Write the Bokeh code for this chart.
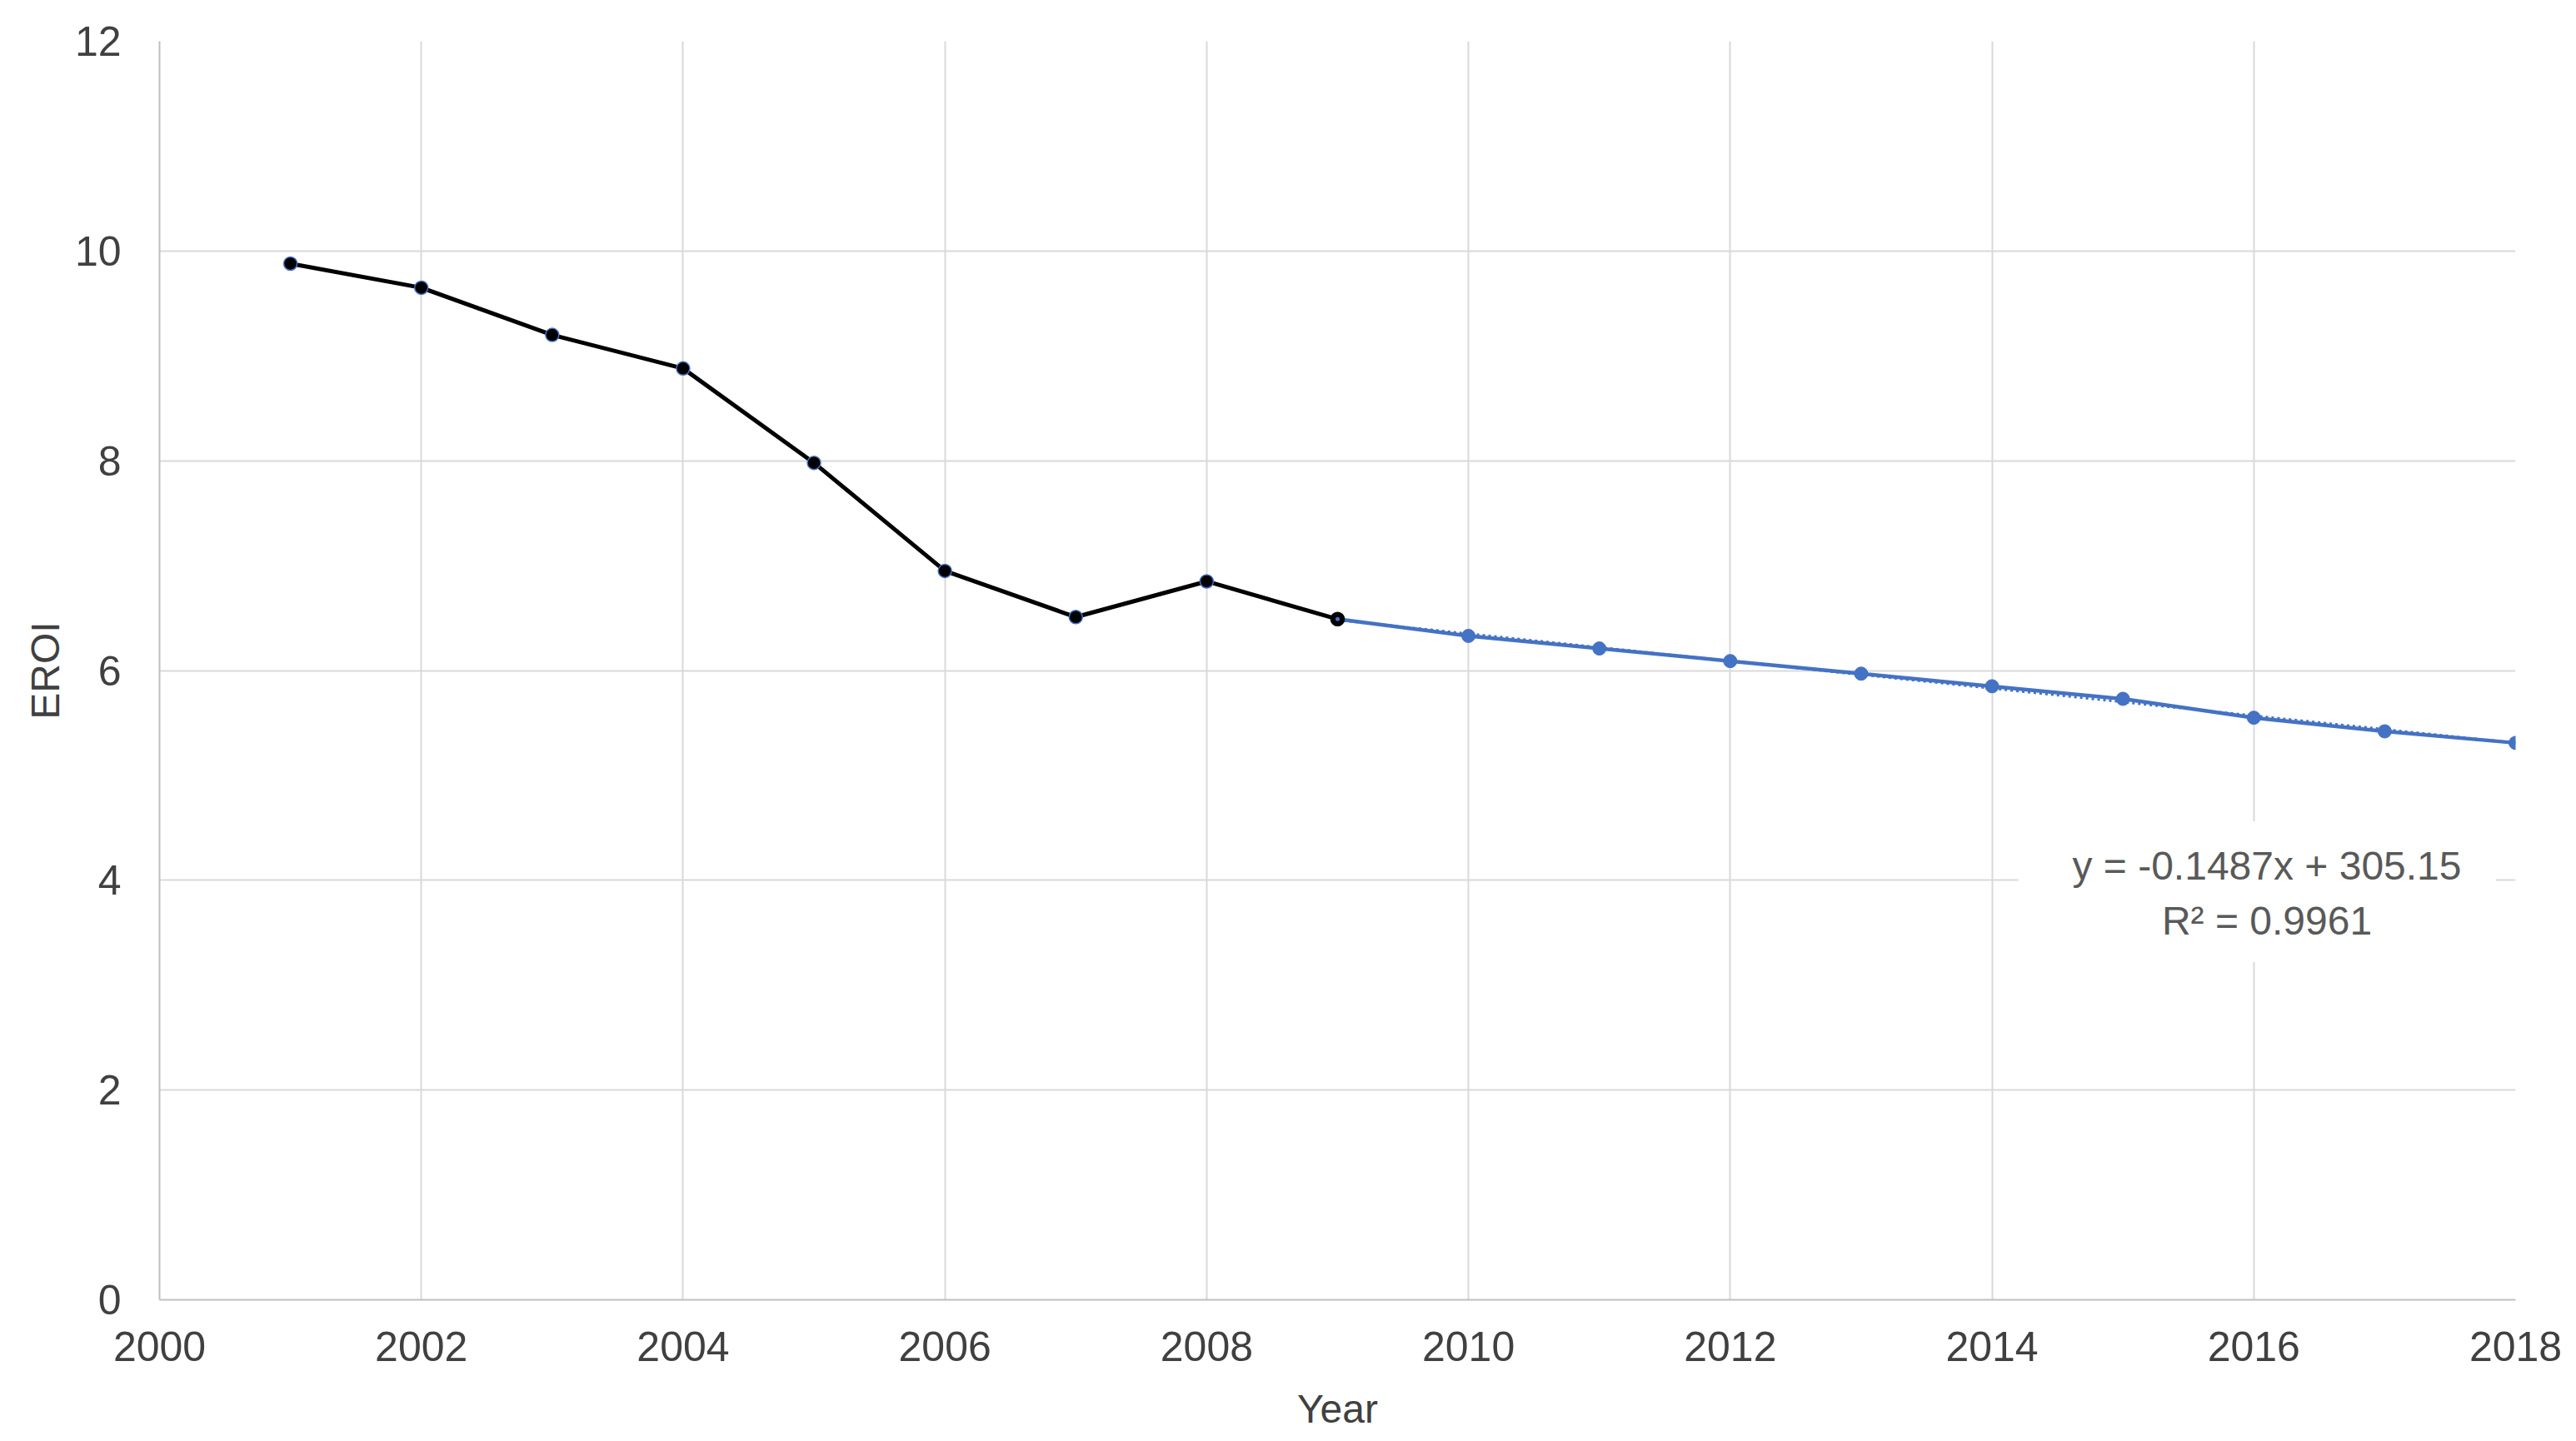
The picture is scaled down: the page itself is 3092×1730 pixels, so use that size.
import numpy as np
from bokeh.plotting import figure
from bokeh.models import Range1d, FixedTicker, Label, BoxAnnotation
from bokeh.embed import file_html
from bokeh.resources import INLINE

# ---- data ----
years_hist = [2001, 2002, 2003, 2004, 2005, 2006, 2007, 2008, 2009]
eroi_hist = [9.88, 9.65, 9.20, 8.88, 7.98, 6.95, 6.51, 6.85, 6.49]
years_proj = [2009, 2010, 2011, 2012, 2013, 2014, 2015, 2016, 2017, 2018]
eroi_proj = [6.49, 6.33, 6.21, 6.09, 5.97, 5.85, 5.73, 5.55, 5.42, 5.31]
x_ticks = [2000, 2002, 2004, 2006, 2008, 2010, 2012, 2014, 2016, 2018]
y_ticks = [0, 2, 4, 6, 8, 10, 12]
trend_lines = ["y = -0.1487x + 305.15", "R\u00b2 = 0.9961"]

FONT = "Liberation Sans"
BLACK = "#000000"
BLUE = "#4472C4"
GRID = "#d9d9d9"
AXIS = "#bfbfbf"
TXT = "#404040"

p = figure(width=3084, height=1722, output_backend="svg", toolbar_location=None,
           x_range=Range1d(2000, 2018), y_range=Range1d(0, 12),
           min_border_left=191, min_border_right=65, min_border_top=49,
           min_border_bottom=162)
p.outline_line_color = None
p.background_fill_color = "white"
p.border_fill_color = "white"

for g in (p.xgrid, p.ygrid):
    g.grid_line_color = GRID
    g.grid_line_width = 2
p.xgrid.ticker = FixedTicker(ticks=x_ticks)
p.ygrid.ticker = FixedTicker(ticks=y_ticks)

p.xaxis.ticker = FixedTicker(ticks=x_ticks)
p.yaxis.ticker = FixedTicker(ticks=y_ticks)
for ax in (p.xaxis, p.yaxis):
    ax.axis_line_color = AXIS
    ax.axis_line_width = 2
    ax.major_tick_line_color = None
    ax.minor_tick_line_color = None
    ax.major_label_text_font = FONT
    ax.major_label_text_font_size = "50px"
    ax.major_label_text_color = TXT
    ax.axis_label_text_font = FONT
    ax.axis_label_text_font_style = "normal"
    ax.axis_label_text_color = TXT
    ax.axis_label_text_font_size = "48px"
p.xaxis.major_label_standoff = 32
p.yaxis.major_label_standoff = 40
p.xaxis.axis_label = "Year"
p.yaxis.axis_label = "EROI"
p.xaxis.axis_label_standoff = 28
p.yaxis.axis_label_standoff = 6

# projected series (blue)
p.line(years_proj, eroi_proj, line_color=BLUE, line_width=4.5)
p.scatter(years_proj, eroi_proj, size=16, fill_color=BLUE, line_color=BLUE)

# linear trend of the projected series (dotted)
coef = np.polyfit(years_proj, eroi_proj, 1)
tx = [years_proj[0], years_proj[-1]]
ty = [coef[0] * tx[0] + coef[1], coef[0] * tx[1] + coef[1]]
p.line(tx, ty, line_color=BLUE, line_width=3, line_dash="3 4")

# historical series (black)
p.line(years_hist, eroi_hist, line_color=BLACK, line_width=5)
p.scatter(years_hist[:-1], eroi_hist[:-1], size=16, fill_color=BLACK, line_color=BLUE, line_width=1.5)
p.scatter(years_hist[-1:], eroi_hist[-1:], size=16, fill_color=BLACK, line_color=BLACK, line_width=1.5)
p.scatter(years_proj[:1], eroi_proj[:1], size=5, fill_color=BLUE, line_color=None)

# trendline label box
box = BoxAnnotation(left=2014.2, right=2017.85, bottom=3.22, top=4.56,
                    fill_color="white", fill_alpha=1.0, line_color=None, level="annotation")
p.add_layout(box)
p.add_layout(Label(x=2016.1, y=4.14, text=trend_lines[0], text_align="center",
                   text_baseline="middle", text_font=FONT, text_font_size="48px",
                   text_color="#595959"))
p.add_layout(Label(x=2016.1, y=3.61, text=trend_lines[1], text_align="center",
                   text_baseline="middle", text_font=FONT, text_font_size="48px",
                   text_color="#595959"))

open("out.html", "w").write(file_html(p, INLINE))
